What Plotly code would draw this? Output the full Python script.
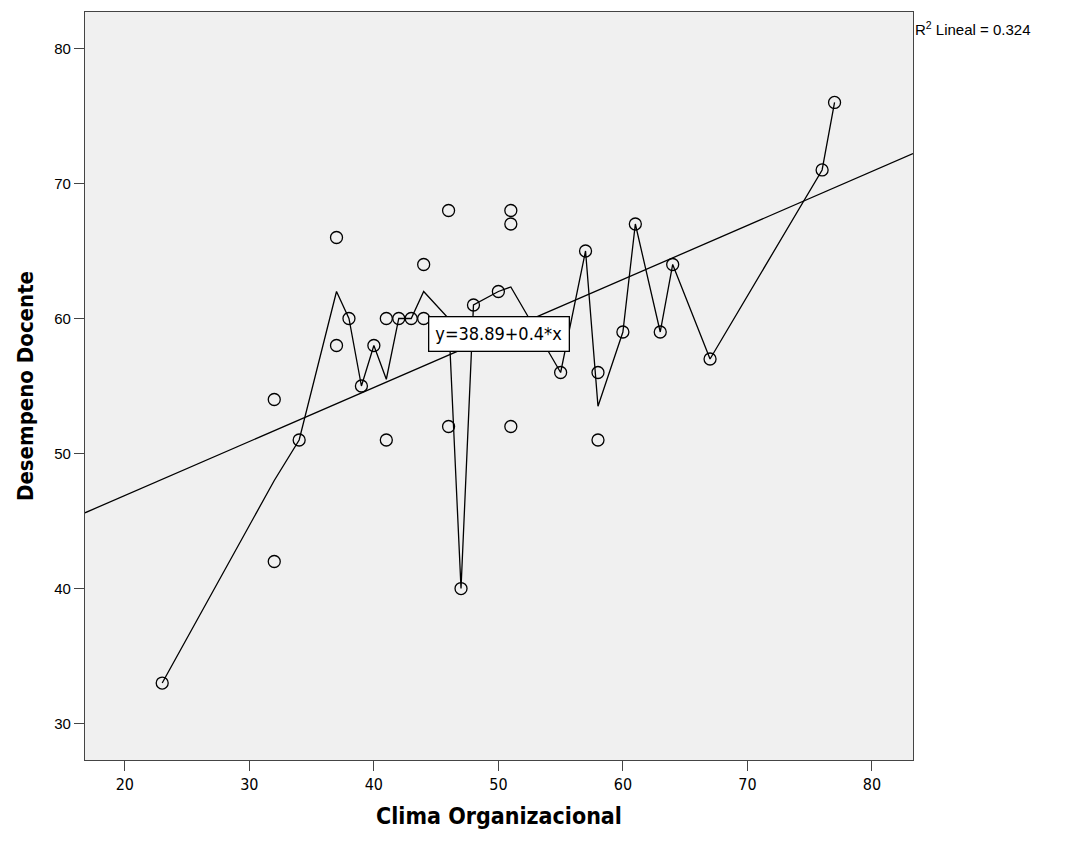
import numpy as np
import pandas as pd
import plotly.graph_objects as go

# Data
clima = [23, 32, 32, 34, 37, 37, 38, 39, 40, 41, 41, 42, 43, 44, 44, 46, 46, 47, 48, 50,
         51, 51, 51, 55, 57, 58, 58, 60, 61, 63, 64, 67, 76, 77]
desempeno = [33, 54, 42, 51, 66, 58, 60, 55, 58, 60, 51, 60, 60, 64, 60, 68, 52, 40, 61, 62,
             68, 67, 52, 56, 65, 56, 51, 59, 67, 59, 64, 57, 71, 76]
intercept = 38.89
slope = 0.4
r2_text = "R<sup>2</sup> Lineal = 0.324"
eq_text = "y=38.89+0.4*x"
x_ticks = [20, 30, 40, 50, 60, 70, 80]
y_ticks = [30, 40, 50, 60, 70, 80]
x_range = [16.8, 83.3]
y_range = [27.3, 82.7]

NARROW = "Liberation Sans Narrow, Arial Narrow, DejaVu Sans Condensed, Roboto Condensed, Liberation Sans, sans-serif"
ARIAL = "Liberation Sans, Arial, sans-serif"

df = pd.DataFrame({"x": clima, "y": desempeno})
means = df.groupby("x", as_index=False)["y"].mean()

fit_x = np.array(x_range)
fit_y = intercept + slope * fit_x

fig = go.Figure()
fig.add_trace(go.Scatter(x=fit_x, y=fit_y, mode="lines",
                         line=dict(color="black", width=1.3), hoverinfo="skip"))
fig.add_trace(go.Scatter(x=means["x"], y=means["y"], mode="lines",
                         line=dict(color="black", width=1.3), hoverinfo="skip"))
fig.add_trace(go.Scatter(x=df["x"], y=df["y"], mode="markers",
                         marker=dict(symbol="circle-open", size=12, color="black",
                                     line=dict(width=1.3, color="black"))))

fig.add_annotation(x=50.02, y=58.87, xref="x", yref="y", text=eq_text, showarrow=False,
                   font=dict(family=NARROW, size=18, color="black"),
                   bgcolor="white", bordercolor="black", borderwidth=1.3, borderpad=6)
fig.add_annotation(x=1.0, y=1.0, xref="paper", yref="paper", xanchor="left", yanchor="top",
                   xshift=0, yshift=-5, text=r2_text, showarrow=False,
                   font=dict(family=ARIAL, size=15, color="black"))

fig.update_layout(
    width=1057, height=833,
    margin=dict(l=77, r=152, t=4, b=81),
    paper_bgcolor="white", plot_bgcolor="#f0f0f0",
    showlegend=False,
    xaxis=dict(range=x_range, tickvals=x_ticks, showgrid=False, zeroline=False,
               showline=True, mirror=True, linecolor="#444", linewidth=1.3,
               ticks="outside", ticklen=10, tickcolor="#444",
               tickfont=dict(family=NARROW, size=16, color="black"),
               title=dict(text="<b>Clima Organizacional</b>", standoff=14,
                          font=dict(family=NARROW, size=23, color="black"))),
    yaxis=dict(range=y_range, tickvals=y_ticks, showgrid=False, zeroline=False,
               showline=True, mirror=True, linecolor="#444", linewidth=1.3,
               ticks="outside", ticklen=10, tickcolor="#444",
               tickfont=dict(family=ARIAL, size=15, color="black"),
               title=dict(text="<b>Desempeno Docente</b>", standoff=14,
                          font=dict(family=NARROW, size=22, color="black"))),
)

fig.write_html("out.html")
